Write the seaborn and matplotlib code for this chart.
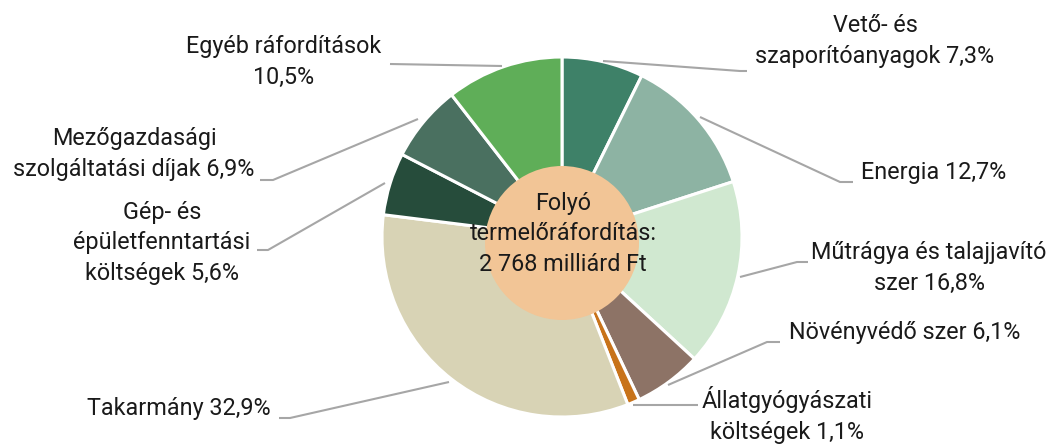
import matplotlib
matplotlib.use("Agg")
import matplotlib.pyplot as plt
from matplotlib.patches import Circle
import seaborn as sns

# ---- data ----
categories = ["Vető- és\nszaporítóanyagok", "Energia", "Műtrágya és talajjavító\nszer",
              "Növényvédő szer", "Állatgyógyászati\nköltségek", "Takarmány",
              "Gép- és\népületfenntartási\nköltségek", "Mezőgazdasági\nszolgáltatási díjak",
              "Egyéb ráfordítások"]
values = [7.3, 12.7, 16.8, 6.1, 1.1, 32.9, 5.6, 6.9, 10.5]
separators = [" ", " ", " ", " ", " ", " ", " ", " ", "\n"]
colors = ["#3e8168", "#8db3a3", "#d0e8d0", "#8d7366", "#c8731a",
          "#d8d3b5", "#264c3b", "#4a7060", "#5fae58"]
center_text = "Folyó\ntermelőráfordítás:\n2 768 milliárd Ft"

# ---- layout (pixel coordinates, y measured from top) ----
W, H = 1047, 444
label_pos = [(875, 41), (934, 172), (929, 268), (905, 333), (787, 415),
             (179, 408), (162, 243), (134, 154), (284, 62)]
leaders = [
    [(603, 61), (740, 71), (747, 71)],
    [(700, 117), (840, 182), (853, 182)],
    [(740, 277), (797, 262), (808, 262)],
    [(668, 385), (767, 342), (780, 342)],
    [(633, 405), (698, 405)],
    [(449, 382), (290, 418), (279, 418)],
    [(385, 183), (268, 250), (257, 250)],
    [(418, 119), (273, 180), (260, 180)],
    [(502, 66), (390, 64)],
]

sns.set_theme(style="white")
plt.rcParams["font.family"] = ["Roboto", "DejaVu Sans"]

fig = plt.figure(figsize=(W / 100, H / 100), dpi=100)
ax = fig.add_axes([0, 0, 1, 1])

def Y(y):
    return H - y

ax.pie(values, colors=colors, startangle=90, counterclock=False,
       center=(562, Y(237)), radius=180,
       wedgeprops=dict(edgecolor="white", linewidth=2.2))
ax.add_patch(Circle((562, Y(243)), 77, facecolor="#f2c596", edgecolor="none", zorder=5))
ax.text(563, Y(234), center_text, ha="center", va="center", fontsize=16.8,
        color="#1a1a1a", linespacing=1.42, zorder=6)

for name, sep, v, (x, y) in zip(categories, separators, values, label_pos):
    lbl = f"{name}{sep}{v:.1f}%".replace(".", ",")
    ax.text(x, Y(y), lbl, ha="center", va="center", fontsize=16.8,
            color="#1a1a1a", linespacing=1.42, zorder=6)

for pts in leaders:
    xs = [p[0] for p in pts]
    ys = [Y(p[1]) for p in pts]
    ax.plot(xs, ys, color="#a6a6a6", linewidth=1.5, zorder=4, solid_capstyle="butt")

ax.set_xlim(0, W)
ax.set_ylim(0, H)
ax.set_aspect("equal")
ax.axis("off")
fig.savefig("out.png", dpi=100, facecolor="white")
